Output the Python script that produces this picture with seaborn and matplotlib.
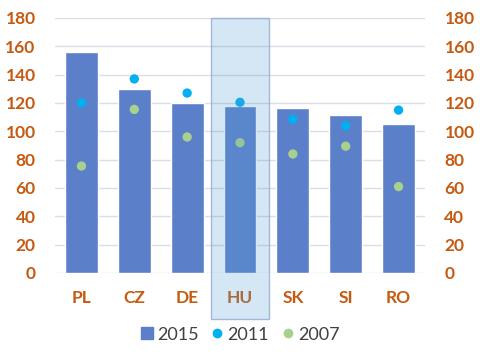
import pandas as pd
import seaborn as sns
import matplotlib.pyplot as plt
from matplotlib.patches import Rectangle
from matplotlib.lines import Line2D

# Datos
countries = ["PL", "CZ", "DE", "HU", "SK", "SI", "RO"]
val_2015 = [156, 130, 120, 118, 116.5, 111.5, 105.5]
val_2011 = [120, 137, 127, 120.5, 108.5, 104, 115]
val_2007 = [75.5, 115.5, 96, 92, 84, 89.5, 61]
highlight = "HU"

df = pd.DataFrame({"country": countries, "2015": val_2015,
                   "2011": val_2011, "2007": val_2007})

sns.set_style("white")
plt.rcParams['font.family'] = ['Lato', 'DejaVu Sans']

fig = plt.figure(figsize=(4.8, 3.57), dpi=100)
ax = fig.add_axes([0.1146, 0.2353, 0.7708, 0.7143])

bar_color = "#5B7FC8"
sns.barplot(data=df, x="country", y="2015", color=bar_color, saturation=1,
            width=0.62, ax=ax, zorder=2)
sns.scatterplot(data=df, x="country", y="2011", color="#00B0F0", s=45,
                edgecolor="none", ax=ax, zorder=3)
sns.scatterplot(data=df, x="country", y="2007", color="#A9D18E", s=45,
                edgecolor="none", ax=ax, zorder=3)

ax.set_ylim(0, 180)
ax.set_xlim(-0.5, len(countries) - 0.5)
ax.set_yticks(range(0, 181, 20))
ax.yaxis.grid(True, color="#D9DEE8", linewidth=1)
ax.set_axisbelow(True)
for s in ax.spines.values():
    s.set_visible(False)
ax.set_xlabel("")
ax.set_ylabel("")

orange = "#C55A11"
ax.tick_params(axis="y", length=0, pad=14, labelsize=12.5, labelcolor=orange)
ax.tick_params(axis="x", length=0, pad=12, labelsize=12.5, labelcolor=orange)
for lab in ax.get_xticklabels() + ax.get_yticklabels():
    lab.set_fontweight("bold")

ax2 = ax.twinx()
ax2.set_ylim(ax.get_ylim())
ax2.set_yticks(range(0, 181, 20))
ax2.tick_params(axis="y", length=0, pad=14, labelsize=12.5, labelcolor=orange)
for lab in ax2.get_yticklabels():
    lab.set_fontweight("bold")
for s in ax2.spines.values():
    s.set_visible(False)

# Recuadro resaltado sobre HU
i = countries.index(highlight)
trans = ax.get_xaxis_transform()
rect = Rectangle((i - 0.545, -0.18), 1.09, 1.18, transform=trans,
                 facecolor=(0.35, 0.62, 0.83, 0.25),
                 edgecolor=(0.55, 0.68, 0.82, 0.8),
                 linewidth=1, clip_on=False, zorder=5)
ax.add_patch(rect)

handles = [
    Line2D([], [], marker="s", linestyle="none", color=bar_color, markersize=8),
    Line2D([], [], marker="o", linestyle="none", color="#00B0F0", markersize=6),
    Line2D([], [], marker="o", linestyle="none", color="#A9D18E", markersize=6),
]
fig.legend(handles, ["2015", "2011", "2007"], loc="lower center",
           bbox_to_anchor=(0.5, -0.005), ncol=3, frameon=False, fontsize=13,
           handlelength=0.7, handletextpad=0.2, columnspacing=0.7,
           labelcolor="#404040")

fig.savefig("out.png", dpi=100)
